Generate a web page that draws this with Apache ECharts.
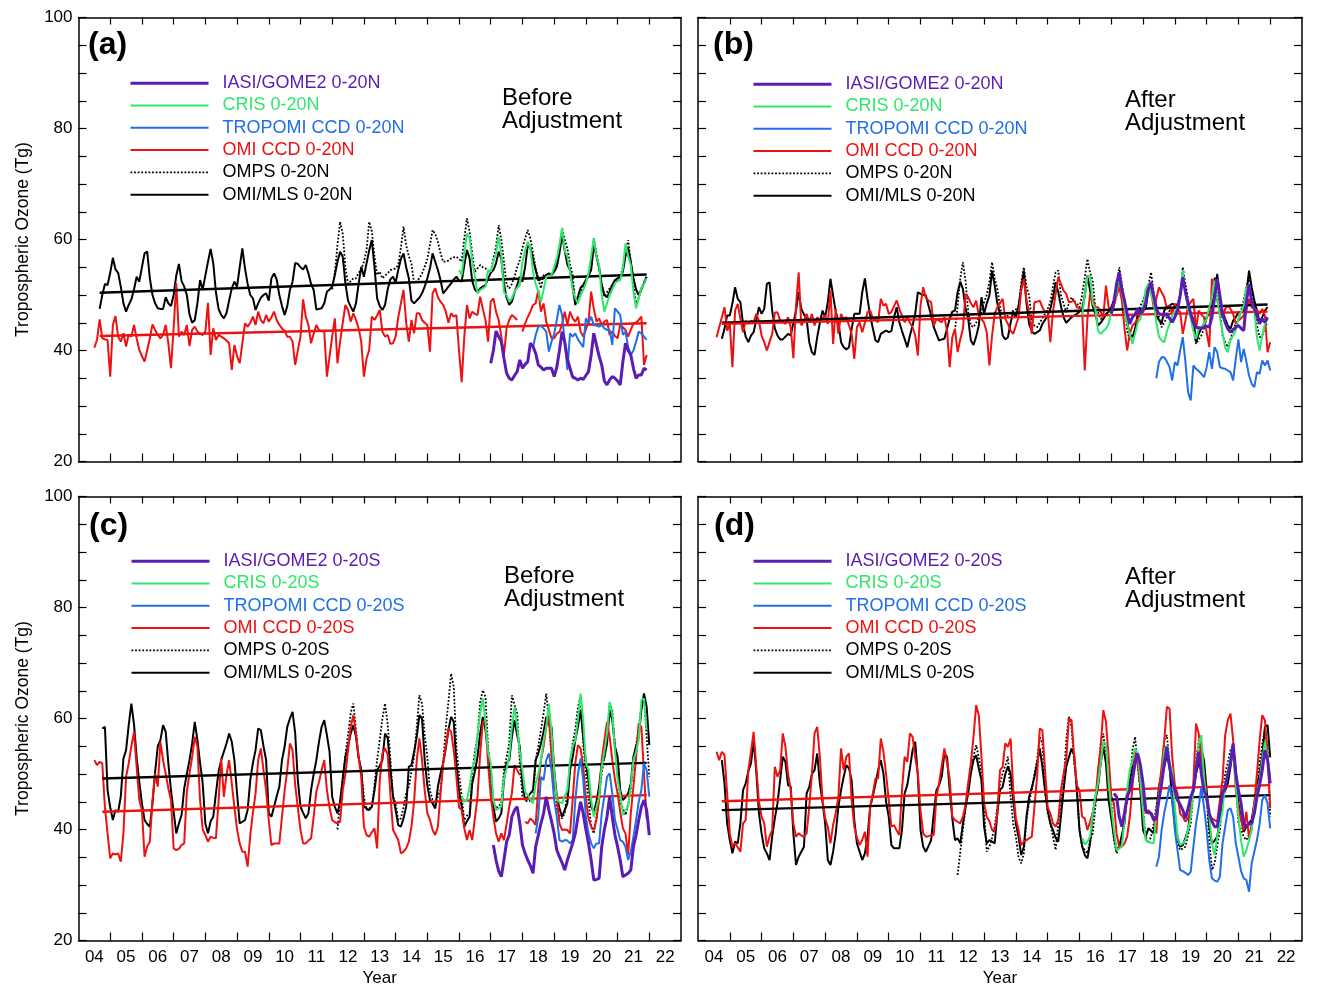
<!DOCTYPE html>
<html>
<head>
<meta charset="utf-8">
<script src="https://cdn.jsdelivr.net/npm/echarts/dist/echarts.min.js"></script>
<style>
html, body { margin: 0; padding: 0; background: #fff; }
#main { width: 1318px; height: 999px; }
</style>
</head>
<body>
<div id="main"></div>
<script>
// monthly series, index 0 = Jan 2004; each array starts at its *Start month
var tickYears = [2005,2006,2007,2008,2009,2010,2011,2012,2013,2014,2015,2016,2017,2018,2019,2020,2021,2022];
var labelYears = [2004.5,2005.5,2006.5,2007.5,2008.5,2009.5,2010.5,2011.5,2012.5,2013.5,2014.5,2015.5,2016.5,2017.5,2018.5,2019.5,2020.5,2021.5,2022.5];
var yearLabels = ['04','05','06','07','08','09','10','11','12','13','14','15','16','17','18','19','20','21','22'];

var namesN = ['IASI/GOME2 0-20N','CRIS 0-20N','TROPOMI CCD 0-20N','OMI CCD 0-20N','OMPS 0-20N','OMI/MLS 0-20N'];
var namesS = ['IASI/GOME2 0-20S','CRIS 0-20S','TROPOMI CCD 0-20S','OMI CCD 0-20S','OMPS 0-20S','OMI/MLS 0-20S'];

// ---- (a) 0-20N before adjustment
var aMlsStart = 8;
var aMls = [47.5,50,52,51.8,54,56.7,54.6,54,51.5,48.5,47,48.2,
49.2,51,53.3,52.4,55,57.5,57.8,53,50,48.5,47.6,47.5,
47.5,49.6,48.5,48,50,53.5,55.6,52.5,51.5,50,46.5,45,
45.5,48.5,52.7,51,53.5,56,58.3,55.7,50.5,47.5,46.4,45.8,
46.7,49,51.2,52.4,51.5,55,58.4,54.8,52,50,49.4,47.3,
48.5,49.5,50,50.3,49,53,53.9,52.8,50,48,46.4,48,
50.9,52.4,55.8,55.6,55,54.6,55.4,53.9,52,50.9,47.4,47.5,
47.6,48.5,50.6,51,51.5,53.6,56,57.8,56.9,52.1,49,47.9,
47,48.5,52,55.1,53.3,55.7,58,59.9,55.1,49.4,48,47.3,
48.2,51,52.8,53.3,52.2,54.5,56.5,57.5,55,53,49,48.5,
49,49.5,50.3,51.5,53,54.8,57.5,56,54.5,52.7,50.3,50.9,
51.5,52.1,52.8,53.3,52.6,52.4,55.4,58.1,56.6,52.5,51,50.5,
51.2,51.5,51.8,53,54,54.5,55.7,57.8,56.5,52,49.5,48.2,
48.8,50.5,51.8,53.3,52.4,55,59,58.5,56.5,54.5,52.6,52.9,
53.2,53.6,53.9,53.6,54.2,55.1,57.5,60.8,58,55.5,54.5,51.5,
48.2,49.7,51.3,51.8,52.7,53.5,54.5,59,57,55,51.8,50,
49.6,50.6,51.8,52.7,53,53.3,54.2,57,58.5,56,53,51,
50,51,52.1,53.3];
var aCcdStart = 6;
var aCcd = [40.5,41.9,45.6,42.2,42,41.9,35.3,44.6,46.2,42.5,41.6,43.1,
40.7,42.9,42.5,44.6,42.2,40.1,39,38,40.1,42.2,44.7,43.7,
42.8,42.2,42.8,44.6,41.3,36.8,44,52.1,42.5,43.4,42.8,44.6,
40.8,43.7,44.3,43.4,43,42.8,43.4,48.6,39.2,44,41.9,42.8,
42.5,42.2,41.8,41.3,36.5,41,39,37.7,41.3,44.9,44.3,45,
46.1,44.6,47,45.5,44.9,46.4,45.2,46,47,45.5,44.6,44,
43.5,42.5,42.5,41.6,37.4,40,42.5,49.2,46.1,44.6,41.3,43,
44.6,43.7,43.5,43.4,35.3,38.9,42.5,45.8,37.7,41.6,45,48.2,
47.3,45.2,46.7,45.5,44,41.6,35.3,38.5,40.1,46.1,45.5,46.3,
47.3,43.4,42.5,42.8,41.2,41.3,42.5,46,48.5,50.9,45,41.6,
45.5,43.1,46.7,46.7,45.5,45,44.6,39.8,50.3,51.2,49.6,48.8,
48.2,47,45,46.7,46.1,46.4,40,34.3,42.5,48.2,45.8,47,
46.6,46.4,49.7,47.5,45.5,41.6,48.8,49.4,47,45.5,42.5,39.2,
44,45.5,46.4,46,45.5,null,43.4,44.9,46,47,48.2,48.5,
50.9,47,48.5,45.2,43.7,42.2,42.2,43,43.4,44.6,47,44.6,
47,45.8,45.2,46.1,43.4,42.5,43.8,45.2,50.6,47.5,45.2,45.8,
44.6,45.2,45.5,42.8,43.4,42.6,42.2,44.6,44.2,43.7,42.5,43.7,
44.9,45,45.5,46.1,37.4,39.2];
var aOmpsStart = 96;
var aOmps = [51,54,59,63.2,61,55,52,52.5,53,53,54,54.5,
56,58,63.2,61.5,57,53.6,54.2,53,53.5,53.9,54.5,54.6,
54.8,55.4,58.5,62.3,59,57,55.7,52.1,52.5,53,53.9,55.1,
56.5,59,61.7,61,59.6,57.5,56,56,56.2,56.6,56.8,56.9,
56.5,56,60.2,63.8,61.4,57.5,54.2,54.8,55.4,55,54.8,54.4,
54.2,56.5,58.7,62.6,60,56,51.8,51.2,52,53.3,55,56.3,
58.5,60.2,61.7,60.2,57.5,54.8,53,51.2,53.6,53.6,53.6,53.9,
54.2,56,58.4,62,60,58.4,55.5,53.6,48.5,49.5,50,51.8,
52.5,53.3,55,60.2,57.5,54.8,52,49.7,50.5,51.2,51.8,52.4,
52.8,53.3,55,57.2,59.9,56,52,48.2,49.5,51.2,52.3,53.3];
var aCrisStart = 144;
var aCris = [54.5,53.6,57.5,61.1,60.2,56,53.3,50.3,50.9,51.2,51.5,54.5,
54.2,56,57.5,60.5,57,50.5,50,48.8,49.4,50.6,51.3,51.8,
56,58,59.6,58.4,54.2,52,50.6,48.8,50.9,53.3,53.4,53.6,
55,56.6,59,62.1,58,56.9,54.2,51,49.4,48.5,50,50.9,
52.1,53.9,57,60.2,57,55.4,50,47,48.5,50,51,52.1,
52.5,52.7,54.8,59.3,57,55.4,50.6,47.6,49.5,51.2,52,53];
var aTropStart = 172;
var aTrop = [40.6,42.8,44.3,44.4,44,43.4,39.8,41.6,43,45.5,48.2,46.4,
41.6,36.5,43.1,42.5,43.1,42,41.3,40.6,45.8,44.9,46.1,44.6,
44.5,44.3,44.6,44,43.7,43.7,41,47.6,47,46.4,42.8,43.4,
40.6,39.2,40,41.6,43.4,43.1,42.5,41.9];
var aIasiStart = 156;
var aIasi = [37.7,40,43.5,42.5,41.6,38.6,35.9,35,34.7,35.5,36.2,38.3,
36.8,37.5,38,41.3,40.7,39.5,37.4,37,36.5,36.8,36.8,36.8,
35.3,37,40,43.4,41.5,38.5,36.8,35.2,35,34.7,35,34.8,
35.5,36.2,39.2,43.1,41,39,37.4,34.5,33.8,34.7,35.3,35,
34.5,33.8,38,41.3,40,39.2,36.8,35,35.6,35.6,36.8,36.5];
var aTrendMonths = [8, 215];
var aMlsTrend = [50.4, 53.7];
var aCcdTrend = [42.6, 44.9];

// ---- (b) 0-20N after adjustment
var bMlsStart = 9;
var bMls = [42.1,43.9,46.3,46.3,48.5,51.4,49.3,48.7,44.8,42.5,41.5,42.7,
43.3,45.5,47.8,46.6,47.5,52,52.3,47.2,44,42.7,42,42,
42.5,43,42.7,45,47.2,50.5,47.5,46.5,45.7,41.5,39.7,39.2,
42.4,45,47.2,46,48.7,52.9,49.9,47,45.1,41.5,40.6,40.2,
40.6,43.9,46.6,46.6,46.6,50.5,53,49.3,46.3,44,41.8,41.5,
43,43.3,43.6,43.3,43.5,46,47.8,45.1,43.5,42.1,40.6,42.7,
44.5,46.6,50.5,50.2,50,49.9,48.1,46.3,44.2,43,41.8,42,
42.1,43.9,45.7,47,47.2,50.5,52.4,51.1,47.5,45.7,41.8,41,
42.5,44.5,49.6,46.6,48.5,49.9,54.4,51.7,48.5,46.6,42.7,42,
42.4,45,47,46,48.1,51.1,54.4,48.5,44.8,43.5,43,43.3,
43.6,44.8,45.5,46.3,47.5,49.5,52.3,50.5,48,46,45,45.5,
46,46.3,46.6,47,47.5,49.9,53.5,50.8,48,46.6,44.5,45,
45.7,46.5,47,47.8,49,50.5,53.2,50,48,45.1,43,42.4,
43.9,46.6,47.2,47.3,47.5,51,52.3,49.3,46.3,45.5,44.8,47.2,
47.8,48.1,48.4,48.3,48.1,50,53.5,51.1,47.5,46.5,45.7,41.5,
43,44,44.8,46,46.6,48,50.5,53.8,49.3,47,45.7,44.5,
43.9,45.4,46,46.9,46.9,47,50,54.4,51.4,49,47.2,45.1,
46,47.2,47.8];
var bCcdStart = 7;
var bCcd = [42.4,44.2,46,47.8,43.6,44.8,37,47.2,48.4,45.7,43.3,45.4,
44.8,45.4,45.1,46.6,45.4,42.7,41.5,40,41.5,43,46.8,46.9,
45.4,45.2,44.8,46,44.2,38.6,48.1,54.1,44.5,45.4,46.6,45.1,
46.6,44.5,46,45.4,45.8,46.3,44.8,50.8,41.2,47.5,43,46.6,
45.7,46,44.5,43,38.5,44.2,45.1,43.3,45,46.9,47.2,45.7,
45.5,45.1,49.3,48.1,48.4,46.6,46.9,48,49,47.5,46.3,45.1,
46,45,44.2,42.7,39.1,48.1,51.4,49.6,49,48.7,44.5,45.7,
45.4,45.1,46,43.6,37,42.4,43.9,39.7,42,43.9,50.2,49.6,
48.5,47.8,49,46.3,45.7,45,43.3,37.3,42.7,46.6,47.8,48.5,
49.3,45.7,44.8,43.6,43,44.5,46,50.8,52.9,49,46.9,43,
48.7,48.8,49,47.8,46.9,47.2,41.5,47,50.2,53.2,52,50.8,
50.2,48.7,48.8,49,47.8,47.6,47.5,36.4,45.7,50.2,49.3,47.8,
47.8,47,46,51.7,47.8,46.6,48,49.9,51.4,49,44,40,
43,44.5,45,45.7,46.6,46.9,49,51.7,50.8,47.8,49.3,51.4,
50.5,49.6,47.5,48.1,46.6,48.4,47.5,46.9,43,45.4,48,48.7,
49.3,43.9,47.2,46.5,46,43.3,40.6,52.9,51.4,49,47.2,46,
47.5,48.1,47.5,46.6,44.8,45.4,45.8,46.3,47.2,49.3,47.8,47.5,
47.2,46.6,47.5,46.3,39.7,41.5];
var bOmpsStart = 97;
var bOmps = [43.6,48,53,55.9,52.5,47,44.5,44.2,45,46,46.9,48.7,
50,52.5,55.9,53,51.1,48,45.7,45.9,46.3,46.7,47.2,47.4,
47.5,52.3,55,51.5,49.9,45.1,44.5,44.2,45,45.8,46.6,47.5,
48.7,51.5,54.1,54.4,50,48.4,46.9,48.5,49.6,48.9,48.5,47.8,
50,53.2,56.5,54,52.6,47.5,46.9,45.7,46,46.6,47,47.2,
49.5,51.1,55,52,49,43.6,41.8,42.5,43.9,46,48.1,49,
50.5,51.7,54.1,50.5,48,46,44.2,45,46,47.2,47.3,47.5,
48.5,49.3,55,52,49.3,46.5,43.9,41.2,42,42.7,44,45.7,
46.8,47.8,53.2,50,47.5,42.7,41.5,40.6,42,43.9,44.8,45.7,
47.2,49,51.4,53.5,50,47.5,44.5,42.4,42.7,44.2,45.1];
var bCrisStart = 145;
var bCris = [46.3,49.9,53.2,53.5,48.5,47.5,43.6,43,43.5,43.9,44.8,46.9,
48.5,50.5,53.5,50.5,47.5,44.8,43,41.2,43,45,45.7,47.8,
51.1,52,50,48.7,45.1,42.5,41.8,41.5,43.5,44.8,46.3,47,
47.8,50,54.4,50.2,47.5,45.7,43.5,42.1,43.9,44.2,44.8,45.7,
47.8,49.5,52.6,49.3,46,43.3,40.5,39.7,41.8,42.7,43.6,45.7,
46.9,48,51.1,52,49,47.2,42.4,40,42.7,44.8,45.7];
var bTropStart = 173;
var bTrop = [35,37.9,38.8,38.8,38,37,34.6,37.9,37.3,40,42.4,37.9,
32.5,31,37.3,36.7,36.3,35.8,35.2,37,39.7,36.7,40.6,39.7,
37,36.8,36.7,36.4,36.1,34.6,38.5,42,37.9,40.3,38,35.5,
34,33.4,36.1,35.8,38.2,37.3,38.2,36.4];
var bIasiStart = 156;
var bIasi = [46.6,48.7,52,54.1,51,49,46.6,44.8,46,46.5,47.5,46.6,
47.2,48.5,51,52.3,49.9,47.5,46.6,46.5,46.3,46.6,45.8,45.1,
46,47.2,49.9,53.2,50.5,48.5,46.6,45,44.2,44.1,44,44.2,
44.4,44.2,46,49.6,52.9,49.9,46.6,45,43.9,43.3,43.7,44.2,
44.5,44,43.6,48.7,52,48.7,47.5,46.3,44.8,45.7,45.1,46];
var bTrendMonths = [9, 215];
var bMlsTrend = [45.0, 48.3];
var bCcdTrend = [44.8, 47.0];

// ---- (c) 0-20S before adjustment
var cMlsStart = 9;
var cMls = [58.2,58.5,47.1,44,41.7,43.5,43.2,45.9,52.8,54.3,58.8,62.7,
59,53,48.6,44.7,41.7,41,40.5,44.7,50.4,55,56.1,58.8,
57.6,51.9,47,43.2,39.3,41.1,42.6,47.4,50,52.5,55.5,59.4,
56.1,52,48.3,41.1,39.3,41.5,42.3,46.5,50.4,52.5,54,55.5,
57.3,55.8,52.5,46.5,41.1,41.4,41.7,43.5,48.9,52,54.3,58.2,
57.9,55,52.5,42.9,42.3,44.1,46,47.7,52.5,54.9,58.5,60,
61.2,57.3,48.9,44.1,43,42,42.9,47.1,50,52.5,55.8,58.5,
59.7,57,54,45.9,44.1,42.9,45,49.2,53.1,55,57.3,58.8,
56.7,53,50.7,44.1,43.8,43.5,44.1,47,50.7,51.5,52.5,57.3,
56.5,51,46,43.5,40.8,40.5,42,44.1,51.3,51.6,54,56.7,
60.6,60,52.5,48,45.3,44.7,43.8,47.7,50.1,52,54.6,58,
60.3,59.4,51.9,47,44.1,40.5,41.5,42.3,48.3,50.5,53.1,57.3,
60.3,58,54,50.7,44.1,41.4,42,42.9,48.9,52,52.5,56.7,
59.7,57,54.9,48.3,45.3,45.9,46.5,47.1,52.5,53.7,55.5,57.6,
60.3,59,58.5,50.7,46,43.8,42.3,43.5,44.7,50.7,53,56.1,
58.5,61.5,56.7,52,48.9,44.1,43.2,45,47.7,51.9,53,55.5,
61.5,59.7,55,53.1,47.1,45.3,45.8,46.5,48.3,53.1,55,56.7,
61.5,64.5,62.1,55.2];
var cCcdStart = 6;
var cCcd = [52.5,51.6,52.2,51.9,44,39.3,34.8,35.7,35.5,35.7,34.2,39.3,
49.5,51.9,55,57.6,51.3,45.3,43.5,35.1,37,37.8,45.3,50.1,
47.7,55.8,52.5,50,47.4,45.3,36.6,36.3,36.5,37.2,37.5,46.8,
50.1,53,56.7,54.9,45.3,40,39,37.8,38.7,38.5,38.4,45,
52.8,45.9,49.8,52.5,48.3,44.1,40,37.5,36,36,33.3,39,
43,46.5,52.5,54.6,50.7,47,41.7,37.2,37.5,37.5,37.5,42.3,
47,50.7,55.5,54.3,48,44,39.9,37.5,37.5,38,38.4,42.3,
46.8,48.5,50.7,52.5,47.1,44,41.7,41.3,41.1,41.4,47.1,50,
54.3,58.5,60.6,57.3,53,49.5,40.5,39,38.7,39.5,40.2,36.6,
48.9,53.7,54.6,53.5,46.5,40,39,38.1,35.7,36,36.6,37.8,
40.5,45,52.5,56.4,52.5,47.1,43,41.7,39.9,39,40.5,46.5,
51.9,55,58.2,57.6,54.3,49.5,44,43.5,40.2,38.1,39.9,38.1,
42,45.9,53.7,59.4,59.7,51.9,46,42.3,39.3,37.8,39.3,38.1,
41,44.1,46.5,51.6,50.7,49.8,null,41.4,41.1,42,41.5,40.8,
47.7,52.5,55,58.5,60.6,53.7,48,45.9,41.1,39.9,40,39.9,
39.3,45.3,52,55.2,54.6,51.3,45.6,42,40.5,39.9,41.7,45.3,
52.5,56,59.4,56.7,52.5,49,46.5,43.2,40.2,39.3,35.4,42.9,
47.7,53,59.1,58.5,50.1,42];
var cOmpsStart = 98;
var cOmps = [40,45,49,53.4,57,61,62.7,58,53,50.7,46,43.5,
43.8,44.1,48,52.5,56.1,60,62.7,59,53,46,44.7,41.7,
42,44,46.5,47.7,50.5,53.1,58.5,64.2,62.7,57,53.1,47,
45.3,44.1,46,47.1,51.9,58.5,63,68.1,65.7,54.9,50,45.9,
41.7,42.5,42.9,50.1,54,56.7,63,65.1,63.9,54.9,48,45.3,
43.8,44.2,44.7,50.7,53,55.5,64.2,62.5,60.9,51.9,46,45.3,
45,45.2,45.3,52.5,55,57.9,61,64.5,59.7,53,50.7,43.8,
42.5,42,42.9,47,51.3,55.5,58,62.1,63.9,55.5,50,45.3,
40.5,39.3,42.3,46,50.1,53,56.7,62.7,61.5,55,51.3,45,
43.8,42.6,44.5,47.1,52.5,55,58.5,62,63.9,56.7,49.5];
var cCrisStart = 145;
var cCris = [46,45,45.3,47.7,51,52.5,57,60.9,63.6,59.4,54,51.9,
45.3,43.5,43.8,44.1,49.2,51,53.1,58.5,62.1,58.5,54,50.7,
46.8,46.2,45.5,44.7,48.3,50,52.5,56,58.5,62.7,57.6,50.7,
45.3,45,44.7,46,47.1,52.5,55,56.1,60,64.5,59.7,52,
50.7,45.3,42.3,44,45.9,51.3,54,57.3,63,60.9,54.3,49,
46.5,42.6,43.5,44.1,47.7,52.5,54,56.1,63.3,63.6,57.9];
var cTropStart = 173;
var cTrop = [39.3,42.3,49.5,48.9,52.5,53.7,50.7,45.3,42.3,38.1,37.8,38.1,
38,37.5,38.1,45.3,50,52.8,48.9,42.3,39.3,37.5,36.6,37.5,
37.5,42.9,46,49.5,50.1,46.5,41.7,40,38.1,37.8,36.9,34.5,
36,38.7,41.7,45,47.1,51.9,50.7,45.9];
var cIasiStart = 157;
var cIasi = [37.2,34.5,32.5,31.5,34.5,37.8,39,42.3,43.5,44.1,41.1,37.2,
35.7,34.5,33.5,32.1,36.9,39,41.1,42.9,45.9,43.5,41.5,39.3,
36.3,35.1,34,32.7,34.5,36,37.5,39.3,42.3,45,42.9,40,
37.5,34.5,30.9,31,31.2,36.9,40,42.3,45.9,42.3,39,36.9,
34.5,31.5,31.8,32.1,32.7,36.9,39,41.7,44.1,45.3,43.5,39];
var cTrendMonths = [9, 215];
var cMlsTrend = [49.2, 52.0];
var cCcdTrend = [43.2, 46.2];

// ---- (d) 0-20S after adjustment
var dMlsStart = 9;
var dMls = [52.5,48.3,41.1,38.1,35.7,37.8,37.5,41.1,47.1,48.3,50.5,51.9,
56.1,50.4,43,39.3,36.6,35.7,34.5,38.7,42,44.7,48.9,53.1,
52.2,48,47.7,39.3,33.6,35.1,36,36.9,46.5,47.7,50,50.7,
53.7,48.3,45,41.1,34.5,33.6,36,39.3,44.1,47.1,49.5,51.6,
51,48.9,41.7,37.5,36,34.5,35.7,38.7,44.1,46,48.3,50.7,
52.5,50.1,45,42.3,37.2,36.6,36.6,36.6,39.9,46.5,48,51,
54.3,55.8,49.5,39.9,36.9,36,37,38.1,42.9,47.1,48,49.5,
53.7,53.1,47.1,42,38.1,38.4,37.5,41.1,44,46.5,50.1,52.5,
53.4,51,48.9,40.5,37.5,38.1,37.8,37.5,42.9,47.1,47.7,50,
51.4,50.1,45.3,41,38.7,35.4,36.9,42.3,45.9,47.5,49.5,51.9,
54.6,51.3,47,43.5,41.1,39.9,38.5,37.8,42.3,47.1,51.3,53,
54.6,53.4,47.1,39.9,37,35.4,34.8,37.5,42.9,45.5,47.7,51.9,
54.9,51.9,45.3,42,38.7,36.3,36.9,39,41.1,47.1,48.9,51,
53.1,53.4,47.1,39.9,38.7,40.2,39.8,39.3,42.9,47.7,50,51.3,
53.4,51.3,45.3,41,38.7,36.9,37.2,38.5,39.9,44.1,47.1,50.1,
52,54.6,52.5,47.1,40.5,37.5,38,38.7,41.7,45.9,47,48.3,
51.3,54.9,50.7,44.7,42,39.6,40.5,41.2,41.7,44.7,47.7,50,
53.1,58.5,58.8,53];
var dCcdStart = 7;
var dCcd = [54,52.5,54,53.4,46.5,39.3,36.9,37.5,36.8,36,41.1,41.7,
50.7,54,57.6,51.3,45,42.3,41.1,36.9,38.7,39.9,51.3,49.5,
50.7,57.3,54.9,50,47.1,41.1,38.7,39.3,38.9,38.7,39.3,44.1,
50,57.3,58.5,53.1,45.3,42,40.5,37.5,40.8,43,45.9,54.6,
50.7,53.1,53.7,45.3,40.5,38.5,37.2,38.1,39.6,35.1,44.1,46.5,
49.2,49.2,56.4,54,50,45.3,40.5,40.8,39.8,39,47.1,53.1,
52.2,57.3,56.7,53,50.1,43.5,39.3,38.7,38.8,39,39,45.9,
48.3,51.5,54.6,52,49.2,42.3,41.7,41.4,41.1,42.3,44.4,48.3,
52,56.7,62.4,60.6,53.1,44.7,42.3,41.5,39.9,39.9,42.9,50.7,
51.3,55.5,54.9,56.4,47.1,42,39.9,37.2,37.8,38.1,38.4,38.7,
44.1,49.5,58.2,57.9,50.7,44,42.9,41.1,40.5,41.7,47.1,50,
52.5,60,59.7,53.1,48,47.1,42.3,42,39.9,41.4,43,45.3,
50.7,54.9,61.5,59.4,53.1,46,44.7,39.3,36.9,36.9,37.5,38.7,
42.3,47.7,54.6,51.9,48,45.3,42.9,43.5,43,42.3,39.3,47.1,
51.3,56,62.1,61.8,53.1,48,46.5,42.9,42.3,41.4,42,43.5,
48.3,59.1,57.3,53,50.1,45.3,42.3,42,41.7,41.4,45.3,48.9,
57,59.7,60.9,56.1,47.1,44,41.7,39.9,43.2,38.4,41,44.7,
50.1,56,60.6,59.7,53.7,43.8];
var dOmpsStart = 98;
var dOmps = [31.8,36,39.9,44.1,48.3,51,53.1,55.2,53,50.1,43.5,36,
36.9,38.5,40.5,44,48.3,50.1,51.5,53.1,45.9,41,38.7,35,
33.9,35.7,41.7,45,47.1,50,52.5,56.7,55.5,47.1,43,41.1,
38.7,36.3,41.1,45,48.3,56.1,60.3,58.5,52,48.3,39.9,37,
36.3,35.7,38,39.3,44.1,49.5,55.5,57.3,53.1,47,45.3,38.1,
35.7,36.9,38,42.3,45,47.7,54.3,56.7,51.3,47,43.5,38.7,
37.5,38.7,41,44.1,47,49.5,56.1,57,51.9,47,43.5,37.5,
36.3,36.6,36.9,39,41.1,47.1,52.5,56.1,53.1,49,45.9,38.1,
32.7,33.9,37,39.9,45.3,50.1,52,54.3,55.2,48.3,41.1,40,
38.7,38.1,39,39.9,44.1,48.9,52,55.5,57.9,54.9,42.3];
var dCrisStart = 145;
var dCris = [38.5,37.3,37.8,38.7,42.9,46,48.3,51.9,55.8,55.5,48.3,44,
39.9,36.3,36.6,36.9,41.7,47.1,50.7,52.5,54.6,53.7,48.9,42.9,
38.1,37.8,37.6,37.5,42.9,46,48.9,54.3,55.2,52,50.7,44.1,
38.7,37.2,37.5,38.1,40,42.3,47.1,51.3,55.5,57,49.5,45,
42.3,37.5,35.4,38.7,41,43.5,48.3,50.5,53.1,54.3,48.3,42.3,
38,35.1,36.3,38,39.9,44.1,46.5,48.9,52.5,55.8,53.1,49.5];
var dTropStart = 173;
var dTrop = [33.3,35.1,39.9,43,45.3,48,45.3,39.9,36.3,32.7,32.5,32.2,
31.8,32.4,36.9,41.1,44,47.7,44.1,39.9,34.5,31.2,30.8,30.6,
31.5,37.5,40.5,43.5,43.8,42.3,37.5,35.1,32.5,31.2,30.9,28.8,
33.9,36,38.1,41,45.3,46.2,44.7,40.2];
var dIasiStart = 157;
var dIasi = [46.5,45.9,42.3,40.5,43,45.9,47.1,48.9,52,53.7,51.6,48.3,
43.5,43,42.9,41.7,42,45.3,48.3,51.9,54.9,51.3,49,47.1,
45.3,44.5,43.5,42,43.8,45.9,47.1,50.7,54,50.1,47,45.9,
42.9,41.5,40.5,40.5,43.5,46.5,47.7,50,51.9,55.5,50.1,47,
44.7,41.1,40.5,41,41.1,42.9,45.9,48,50.7,54.3,52.5,48.3];
var dTrendMonths = [9, 216];
var dMlsTrend = [43.5, 46.2];
var dCcdTrend = [45.1, 48.0];

var FONT = 'Liberation Sans, Arial, Helvetica, sans-serif';
var C_IASI = '#5a1cb4';
var C_CRIS = '#2fe86b';
var C_TROP = '#1f6fea';
var C_CCD = '#ee1111';
var C_BLK = '#000000';

function toXY(start, vals) {
  return vals.map(function (v, i) { return [2004 + (start + i) / 12, v]; });
}

function lineSeries(name, start, vals, gi, color, width, dash) {
  return {
    name: name, type: 'line', xAxisIndex: gi, yAxisIndex: gi,
    data: toXY(start, vals), symbol: 'none', silent: true, animation: false,
    connectNulls: false,
    itemStyle: { color: color },
    lineStyle: { color: color, width: width, type: dash || 'solid' }
  };
}

function trendSeries(gi, months, vals, color) {
  return {
    name: 'trend', type: 'line', xAxisIndex: gi, yAxisIndex: gi,
    data: months.map(function (m, i) { return [2004 + m / 12, vals[i]]; }),
    symbol: 'none', silent: true, animation: false,
    lineStyle: { color: color, width: 2.4 }
  };
}

var panels = [
  { names: namesN, mls: [aMlsStart, aMls], ccd: [aCcdStart, aCcd], omps: [aOmpsStart, aOmps], cris: [aCrisStart, aCris], trop: [aTropStart, aTrop], iasi: [aIasiStart, aIasi], tm: aTrendMonths, tMls: aMlsTrend, tCcd: aCcdTrend },
  { names: namesN, mls: [bMlsStart, bMls], ccd: [bCcdStart, bCcd], omps: [bOmpsStart, bOmps], cris: [bCrisStart, bCris], trop: [bTropStart, bTrop], iasi: [bIasiStart, bIasi], tm: bTrendMonths, tMls: bMlsTrend, tCcd: bCcdTrend },
  { names: namesS, mls: [cMlsStart, cMls], ccd: [cCcdStart, cCcd], omps: [cOmpsStart, cOmps], cris: [cCrisStart, cCris], trop: [cTropStart, cTrop], iasi: [cIasiStart, cIasi], tm: cTrendMonths, tMls: cMlsTrend, tCcd: cCcdTrend },
  { names: namesS, mls: [dMlsStart, dMls], ccd: [dCcdStart, dCcd], omps: [dOmpsStart, dOmps], cris: [dCrisStart, dCris], trop: [dTropStart, dTrop], iasi: [dIasiStart, dIasi], tm: dTrendMonths, tMls: dMlsTrend, tCcd: dCcdTrend }
];

var grids = [
  { left: 78.5, top: 17.5, width: 602.5, height: 444 },
  { left: 698, top: 17.5, width: 604, height: 444 },
  { left: 78.5, top: 496.5, width: 602.5, height: 444 },
  { left: 698, top: 496.5, width: 604, height: 444 }
];

var axisLineStyle = { color: '#000', width: 1.5 };
var tickLineStyle = { color: '#000', width: 1.2 };

var xAxes = [], yAxes = [];
for (var g = 0; g < 4; g++) {
  var bottomRow = g >= 2;
  xAxes.push({
    type: 'value', gridIndex: g, position: 'bottom', min: 2004, max: 2023,
    axisLine: { show: true, onZero: false, lineStyle: axisLineStyle },
    axisTick: { show: true, inside: true, length: 8, customValues: tickYears, lineStyle: tickLineStyle },
    axisLabel: {
      show: bottomRow, customValues: labelYears, margin: 8,
      fontSize: 17, fontFamily: FONT, color: '#000',
      formatter: function (v) { return yearLabels[Math.floor(v) - 2004]; }
    },
    splitLine: { show: false },
    name: bottomRow ? 'Year' : '', nameLocation: 'middle', nameGap: 29,
    nameTextStyle: { fontSize: 17, fontFamily: FONT, color: '#000' }
  });
  yAxes.push({
    type: 'value', gridIndex: g, position: 'left', min: 20, max: 100, interval: 20,
    axisLine: { show: true, onZero: false, lineStyle: axisLineStyle },
    axisTick: { show: true, inside: true, length: 8, lineStyle: tickLineStyle },
    minorTick: { show: true, splitNumber: 4, length: 8, lineStyle: tickLineStyle },
    axisLabel: { show: g % 2 === 0, margin: 6, fontSize: 17, fontFamily: FONT, color: '#000' },
    splitLine: { show: false }, minorSplitLine: { show: false },
    name: g % 2 === 0 ? 'Tropospheric Ozone (Tg)' : '', nameLocation: 'middle', nameGap: 46,
    nameTextStyle: { fontSize: 17.5, fontFamily: FONT, color: '#000' }
  });
}
for (var g2 = 0; g2 < 4; g2++) {
  xAxes.push({
    type: 'value', gridIndex: g2, position: 'top', min: 2004, max: 2023,
    axisLine: { show: true, onZero: false, lineStyle: axisLineStyle },
    axisTick: { show: true, inside: true, length: 7, customValues: tickYears, lineStyle: tickLineStyle },
    axisLabel: { show: false }, splitLine: { show: false }
  });
  yAxes.push({
    type: 'value', gridIndex: g2, position: 'right', min: 20, max: 100, interval: 20,
    axisLine: { show: true, onZero: false, lineStyle: axisLineStyle },
    axisTick: { show: true, inside: true, length: 8, lineStyle: tickLineStyle },
    minorTick: { show: true, splitNumber: 4, length: 8, lineStyle: tickLineStyle },
    axisLabel: { show: false }, splitLine: { show: false }, minorSplitLine: { show: false }
  });
}

var series = [];
panels.forEach(function (p, gi) {
  var n = p.names;
  series.push(lineSeries(n[5], p.mls[0], p.mls[1], gi, C_BLK, 2));
  series.push(lineSeries(n[4], p.omps[0], p.omps[1], gi, C_BLK, 1.8, [1.8, 1.8]));
  series.push(lineSeries(n[3], p.ccd[0], p.ccd[1], gi, C_CCD, 2));
  series.push(trendSeries(gi, p.tm, p.tMls, C_BLK));
  series.push(trendSeries(gi, p.tm, p.tCcd, C_CCD));
  series.push(lineSeries(n[2], p.trop[0], p.trop[1], gi, C_TROP, 2));
  series.push(lineSeries(n[1], p.cris[0], p.cris[1], gi, C_CRIS, 2));
  series.push(lineSeries(n[0], p.iasi[0], p.iasi[1], gi, C_IASI, 3));
});

var legendColors = [C_IASI, C_CRIS, C_TROP, C_CCD, C_BLK, C_BLK];
var legendPos = [[129, 72], [752, 73], [130, 550], [752, 550]];
var legends = legendPos.map(function (pos, k) {
  var names = k < 2 ? namesN : namesS;
  return {
    orient: 'vertical', left: pos[0], top: pos[1], padding: 0,
    itemWidth: 78, itemHeight: 12, itemGap: 0, selectedMode: false,
    itemStyle: { opacity: 0, borderWidth: 0 },
    lineStyle: { width: 'inherit' },
    data: names.map(function (nm, j) { return { name: nm, textStyle: { color: legendColors[j] } }; }),
    textStyle: { fontSize: 18, fontFamily: FONT, lineHeight: 22.3, padding: [0, 0, 0, 9] }
  };
});

function label(text, left, top, size, weight, lh) {
  return {
    text: text, left: left, top: top, padding: 0,
    textStyle: { fontSize: size, fontWeight: weight, fontFamily: FONT, color: '#000', lineHeight: lh }
  };
}

var option = {
  backgroundColor: '#fff',
  animation: false,
  title: [
    label('(a)', 88, 29, 32, 'bold', 32),
    label('(b)', 713, 29, 32, 'bold', 32),
    label('(c)', 89, 510, 32, 'bold', 32),
    label('(d)', 714, 510, 32, 'bold', 32),
    label('Before\nAdjustment', 502, 86.5, 24, 'normal', 23),
    label('After\nAdjustment', 1125, 88.5, 24, 'normal', 23),
    label('Before\nAdjustment', 504, 564.5, 24, 'normal', 23),
    label('After\nAdjustment', 1125, 565.5, 24, 'normal', 23)
  ],
  legend: legends,
  grid: grids,
  xAxis: xAxes,
  yAxis: yAxes,
  series: series
};

var chart = echarts.init(document.getElementById('main'));
chart.setOption(option);
</script>
</body>
</html>
